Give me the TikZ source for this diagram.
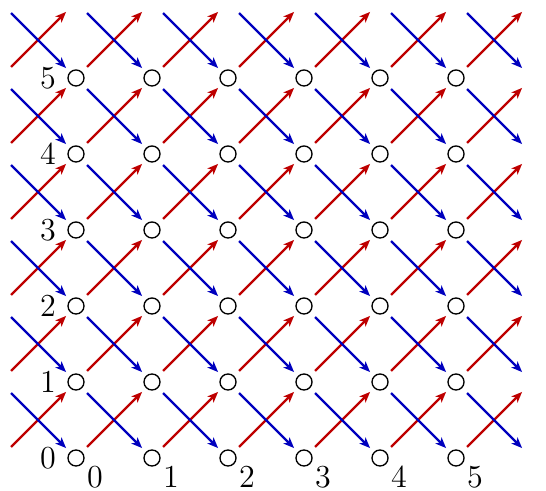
\documentclass[tikz,border=0pt]{standalone}
\usetikzlibrary{arrows.meta}
\definecolor{uparrow}{RGB}{190,0,0}
\definecolor{downarrow}{RGB}{0,0,190}
\begin{document}
\begin{tikzpicture}[
    dot/.style={circle,draw,line width=0.5pt,minimum size=6pt,inner sep=0pt},
    ghost/.style={dot,draw=none},
    uparr/.style={uparrow,line width=0.85pt,-{Stealth[length=4pt,width=3.2pt,inset=1pt]},
      shorten <=2.6pt,shorten >=2pt},
    downarr/.style={uparr,downarrow},
    lbl/.style={font=\fontsize{13.2}{16}\selectfont,inner sep=1pt}]
    \useasboundingbox (-1,-0.434) rectangle (6.184,6.026);
    % grid points
    \foreach \i in {0,...,5} \foreach \j in {0,...,5}
      \node[dot] (n\i-\j) at (\i,\j) {};
    % points outside the grid, for the arrow ends
    \foreach \j in {0,...,6} {
      \node[ghost] (n-1-\j) at (-1,\j) {};
      \node[ghost] (n6-\j) at (6,\j) {};
    }
    \foreach \i in {0,...,5} \node[ghost] (n\i-6) at (\i,6) {};
    % arrows
    \foreach \i in {-1,...,5} {
      \pgfmathtruncatemacro\ii{\i+1}
      \foreach \j in {0,...,5} {
        \pgfmathtruncatemacro\jj{\j+1}
        \draw[uparr] (n\i-\j) -- (n\ii-\jj);
        \draw[downarr] (n\i-\jj) -- (n\ii-\j);
      }
    }
    % labels
    \foreach \k in {0,...,5} {
      \node[lbl] (row\k) at (-0.37,\k) {$\k$};
      \node[lbl] (col\k) at (\k+0.25,-0.255) {$\k$};
    }
  \end{tikzpicture}
\end{document}
